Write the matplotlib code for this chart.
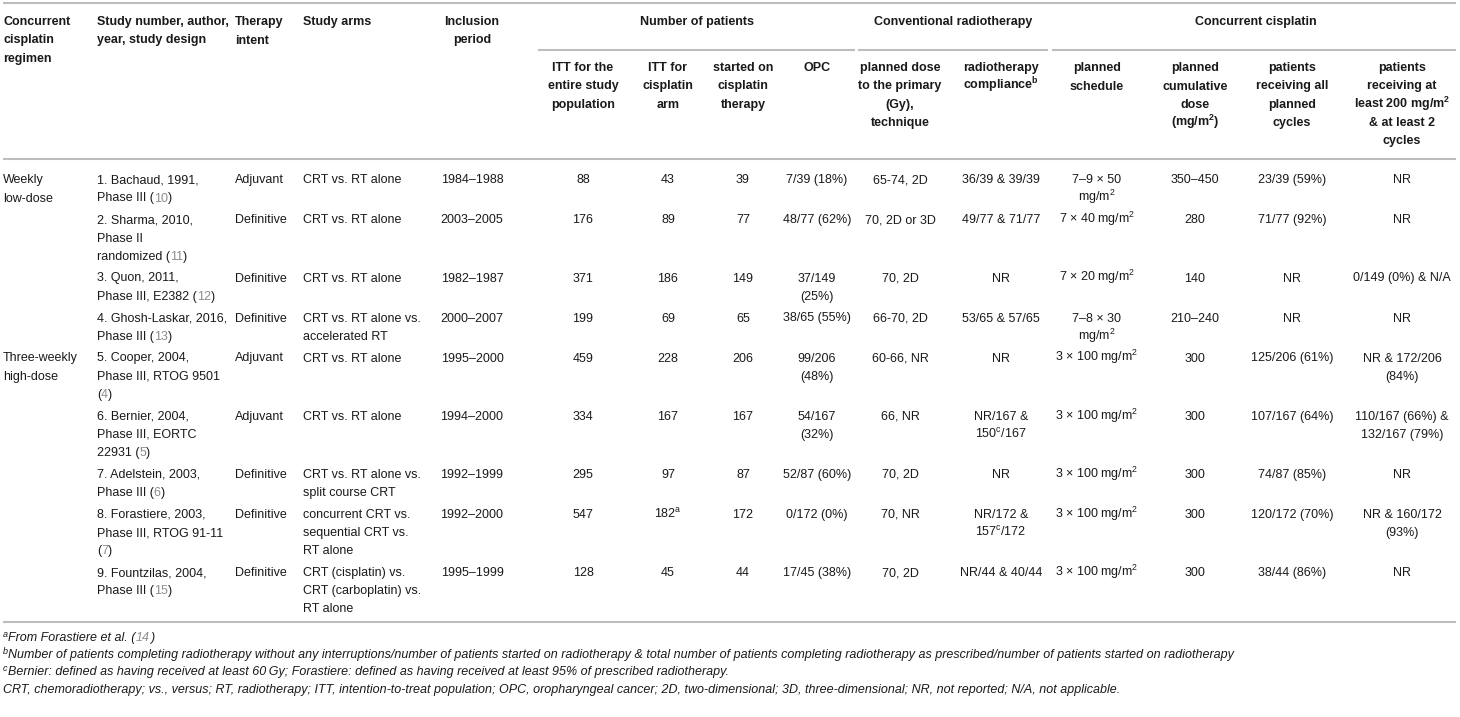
import re
import matplotlib
matplotlib.use("Agg")
import matplotlib.pyplot as plt

plt.rcParams['font.family'] = ['Liberation Sans', 'DejaVu Sans']
plt.rcParams['mathtext.fontset'] = 'custom'
plt.rcParams['mathtext.rm'] = 'Liberation Sans'
plt.rcParams['mathtext.it'] = 'Liberation Sans:italic'
plt.rcParams['mathtext.bf'] = 'Liberation Sans:bold'

# ---------------- data ----------------
group_headers = ["Number of patients", "Conventional radiotherapy", "Concurrent cisplatin"]
column_headers = [
    "Concurrent\ncisplatin\nregimen",
    "Study number, author,\nyear, study design",
    "Therapy\nintent",
    "Study arms",
    "Inclusion\nperiod",
    "ITT for the\nentire study\npopulation",
    "ITT for\ncisplatin\narm",
    "started on\ncisplatin\ntherapy",
    "OPC",
    "planned dose\nto the primary\n(Gy),\ntechnique",
    "radiotherapy\ncompliance$^{\\mathbf{b}}$",
    "planned\nschedule",
    "planned\ncumulative\ndose\n(mg/m$^{\\mathbf{2}}$)",
    "patients\nreceiving all\nplanned\ncycles",
    "patients\nreceiving at\nleast 200 mg/m$^{\\mathbf{2}}$\n& at least 2\ncycles",
]
regimen = ["Weekly\nlow-dose", "", "", "", "Three-weekly\nhigh-dose", "", "", "", ""]
study = [
    "1. Bachaud, 1991,\nPhase III ([10])",
    "2. Sharma, 2010,\nPhase II\nrandomized ([11])",
    "3. Quon, 2011,\nPhase III, E2382 ([12])",
    "4. Ghosh-Laskar, 2016,\nPhase III ([13])",
    "5. Cooper, 2004,\nPhase III, RTOG 9501\n([4])",
    "6. Bernier, 2004,\nPhase III, EORTC\n22931 ([5])",
    "7. Adelstein, 2003,\nPhase III ([6])",
    "8. Forastiere, 2003,\nPhase III, RTOG 91-11\n([7])",
    "9. Fountzilas, 2004,\nPhase III ([15])",
]
intent = ["Adjuvant", "Definitive", "Definitive", "Definitive", "Adjuvant",
          "Adjuvant", "Definitive", "Definitive", "Definitive"]
arms = ["CRT vs. RT alone", "CRT vs. RT alone", "CRT vs. RT alone",
        "CRT vs. RT alone vs.\naccelerated RT", "CRT vs. RT alone", "CRT vs. RT alone",
        "CRT vs. RT alone vs.\nsplit course CRT",
        "concurrent CRT vs.\nsequential CRT vs.\nRT alone",
        "CRT (cisplatin) vs.\nCRT (carboplatin) vs.\nRT alone"]
period = ["1984–1988", "2003–2005", "1982–1987", "2000–2007", "1995–2000",
          "1994–2000", "1992–1999", "1992–2000", "1995–1999"]
itt_total = ["88", "176", "371", "199", "459", "334", "295", "547", "128"]
itt_cisplatin = ["43", "89", "186", "69", "228", "167", "97", "182$^{\\mathrm{a}}$", "45"]
started = ["39", "77", "149", "65", "206", "167", "87", "172", "44"]
opc = ["7/39 (18%)", "48/77 (62%)", "37/149\n(25%)", "38/65 (55%)", "99/206\n(48%)",
       "54/167\n(32%)", "52/87 (60%)", "0/172 (0%)", "17/45 (38%)"]
rt_dose = ["65-74, 2D", "70, 2D or 3D", "70, 2D", "66-70, 2D", "60-66, NR",
           "66, NR", "70, 2D", "70, NR", "70, 2D"]
rt_compliance = ["36/39 & 39/39", "49/77 & 71/77", "NR", "53/65 & 57/65", "NR",
                 "NR/167 &\n150$^{\\mathrm{c}}$/167", "NR",
                 "NR/172 &\n157$^{\\mathrm{c}}$/172", "NR/44 & 40/44"]
schedule = ["7–9 × 50\nmg/m$^{2}$", "7 × 40 mg/m$^{2}$", "7 × 20 mg/m$^{2}$",
            "7–8 × 30\nmg/m$^{2}$", "3 × 100 mg/m$^{2}$", "3 × 100 mg/m$^{2}$",
            "3 × 100 mg/m$^{2}$", "3 × 100 mg/m$^{2}$", "3 × 100 mg/m$^{2}$"]
cum_dose = ["350–450", "280", "140", "210–240", "300", "300", "300", "300", "300"]
all_cycles = ["23/39 (59%)", "71/77 (92%)", "NR", "NR", "125/206 (61%)",
              "107/167 (64%)", "74/87 (85%)", "120/172 (70%)", "38/44 (86%)"]
at_least_200 = ["NR", "NR", "0/149 (0%) & N/A", "NR", "NR & 172/206\n(84%)",
                "110/167 (66%) &\n132/167 (79%)", "NR", "NR & 160/172\n(93%)", "NR"]
footnote_marks = ["a", "b", "c", ""]
footnotes = [
    "From Forastiere et al. ([14])",
    "Number of patients completing radiotherapy without any interruptions/number of patients "
    "started on radiotherapy & total number of patients completing radiotherapy as prescribed/number "
    "of patients started on radiotherapy",
    "Bernier: defined as having received at least 60\u2009Gy; Forastiere: defined as having "
    "received at least 95% of prescribed radiotherapy.",
    "CRT, chemoradiotherapy; vs., versus; RT, radiotherapy; ITT, intention-to-treat population; OPC, "
    "oropharyngeal cancer; 2D, two-dimensional; 3D, three-dimensional; NR, not reported; N/A, not applicable.",
]

columns = [regimen, study, intent, arms, period, itt_total, itt_cisplatin, started, opc,
           rt_dose, rt_compliance, schedule, cum_dose, all_cycles, at_least_200]

# ---------------- layout ----------------
W, H = 1460, 717
FS = 9.0
FN_FS = 9.0
LH = 18.2
GAP = 3.6
BASE = 4.3
TXT = "#1a1a1a"
REF = "#8c8c8c"
RULE = "#bdbdbd"

col_x = [3, 97, 235, 303, 472, 583, 668, 743, 817, 900, 1001, 1097, 1195, 1292, 1402]
col_ha = ['left'] * 4 + ['center'] * 11
group_x = [697, 953, 1256]
group_rules = [(538, 855), (858, 1048), (1052, 1456)]

fig = plt.figure(figsize=(W / 100, H / 100), dpi=100)
ax = fig.add_axes([0, 0, 1, 1])
ax.set_xlim(0, W)
ax.set_ylim(H, 0)
ax.axis('off')


def draw_line(x, y, line, ha, weight='normal', style='normal', size=FS):
    parts = [p for p in re.split(r'(\[[^\]]*\])', line) if p != ""]
    if len(parts) == 1 and not parts[0].startswith('['):
        ax.text(x, y + BASE, line, ha=ha, va='baseline', fontsize=size,
                fontweight=weight, fontstyle=style, color=TXT)
        return
    prev = None
    for p in parts:
        col = TXT
        if p.startswith('['):
            p = p[1:-1]
            col = REF
        if prev is None:
            prev = ax.text(x, y + BASE, p, ha='left', va='baseline', fontsize=size,
                           fontweight=weight, fontstyle=style, color=col)
        else:
            prev = ax.annotate(p, xy=(1, 0), xycoords=prev, ha='left', va='bottom',
                               fontsize=size, fontweight=weight, fontstyle=style, color=col)


def draw_cell(x, y0, text, ha, weight='normal', style='normal', size=FS):
    for i, line in enumerate(text.split("\n")):
        draw_line(x, y0 + i * LH, line, ha, weight, style, size)


def rule(x0, x1, y):
    ax.plot([x0, x1], [y, y], color=RULE, lw=1.5, solid_capstyle='butt')


# rules
rule(3, 1456, 3)
for a, b in group_rules:
    rule(a, b, 50)
rule(3, 1456, 159)

# headers
for gx, g in zip(group_x, group_headers):
    draw_cell(gx, 21, g, 'center', weight='bold')
for j, h in enumerate(column_headers):
    y0 = 21 if j < 5 else 67
    draw_cell(col_x[j], y0, h, col_ha[j], weight='bold')

# body
y = 179
for i in range(len(study)):
    nlines = 1
    for j, col in enumerate(columns):
        draw_cell(col_x[j], y, col[i], col_ha[j])
        nlines = max(nlines, col[i].count("\n") + 1)
    y += nlines * LH + GAP

rule(3, 1456, 622)

# footnotes
fy = [637, 654, 671, 689]
for yy, m, f in zip(fy, footnote_marks, footnotes):
    if m:
        ax.text(3, yy + BASE - 4.5, m, ha='left', va='baseline', fontsize=FN_FS * 0.72,
                fontstyle='italic', color=TXT)
        draw_line(8.5, yy, f, 'left', style='italic', size=FN_FS)
    else:
        draw_line(3, yy, f, 'left', style='italic', size=FN_FS)

fig.savefig("out.png", dpi=100, facecolor='white')
